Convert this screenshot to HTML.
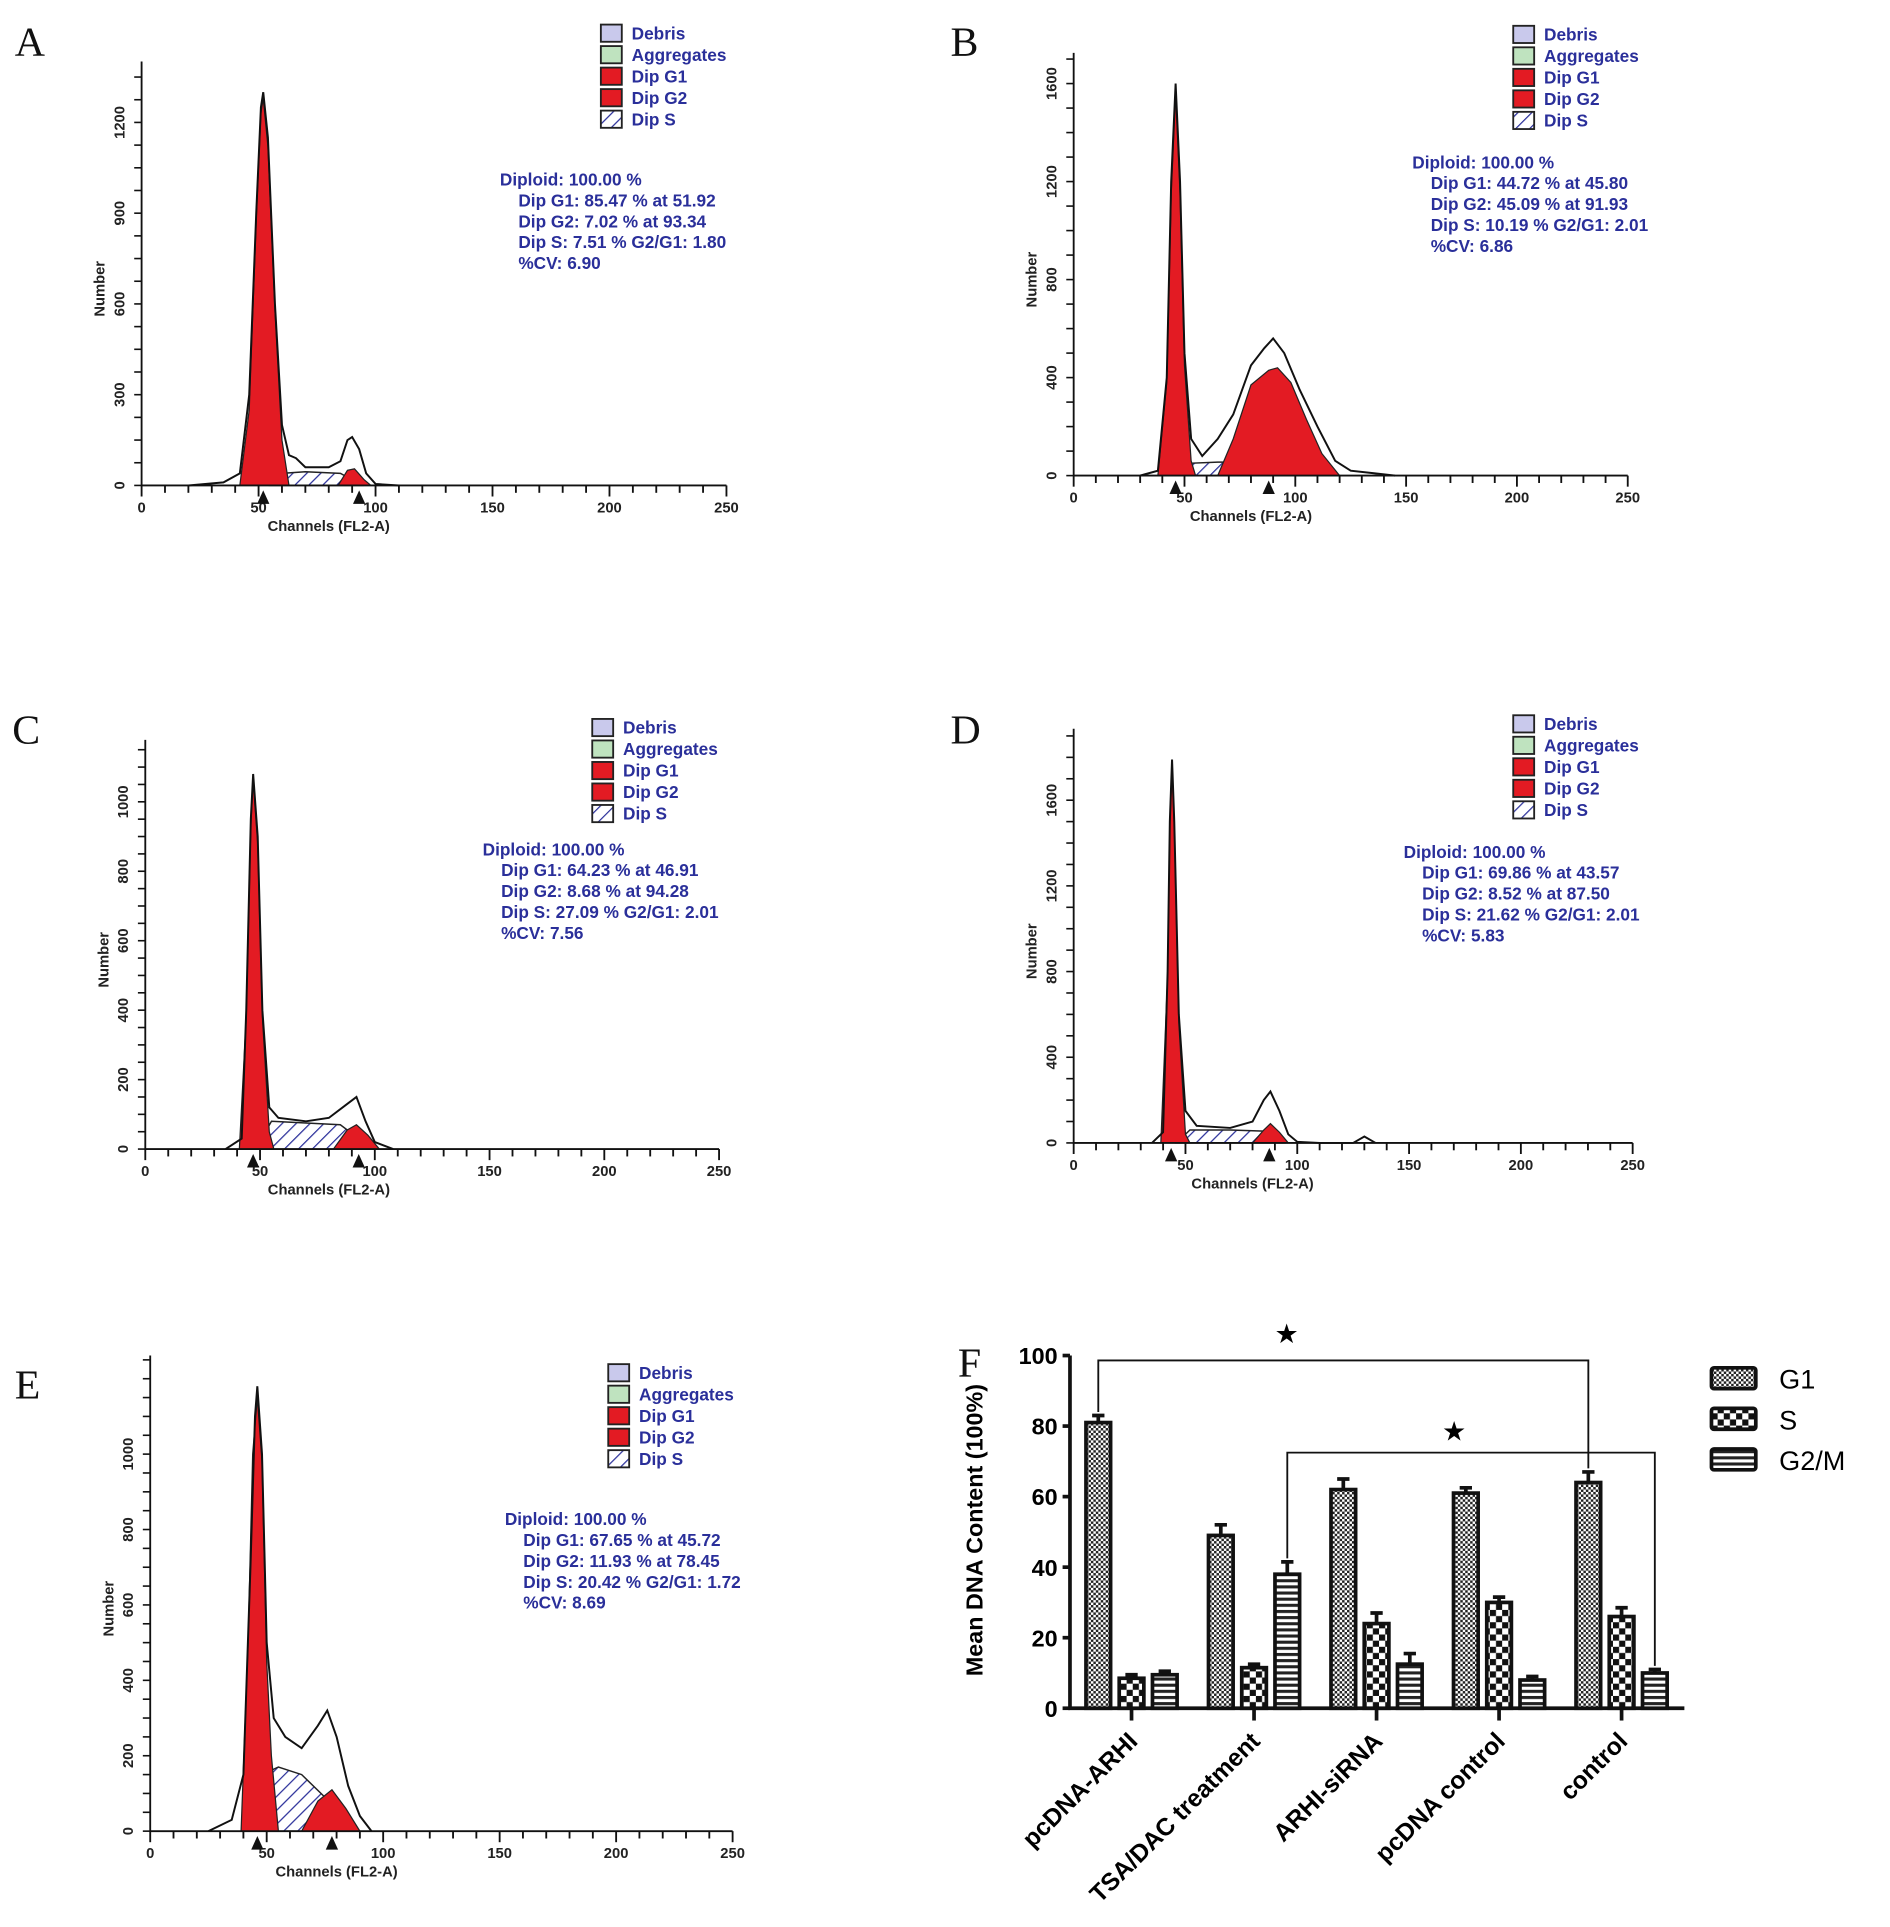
<!DOCTYPE html>
<html><head><meta charset="utf-8">
<style>
html,body{margin:0;padding:0;background:#fff;}
svg{display:block;}
.lt{font-family:"Liberation Sans",sans-serif;font-weight:bold;fill:#2a2f9a;font-size:14px;}
.st{font-family:"Liberation Sans",sans-serif;font-size:12px;font-weight:bold;fill:#222;}
.pl{font-family:"Liberation Serif",serif;font-size:34px;fill:#111;}
</style></head>
<body>
<svg id="fig" width="1890" height="1927" viewBox="0 0 1535 1568" preserveAspectRatio="none" xmlns="http://www.w3.org/2000/svg">
<defs>
<pattern id="hatch" width="8" height="8" patternUnits="userSpaceOnUse" patternTransform="rotate(45)">
<rect width="8" height="8" fill="#fff"/><line x1="0" y1="0" x2="0" y2="8" stroke="#2a2f9a" stroke-width="2"/></pattern>
<pattern id="pG1" width="4" height="4" patternUnits="userSpaceOnUse"><rect width="4" height="4" fill="#fff"/><rect width="2" height="2" fill="#222"/><rect x="2" y="2" width="2" height="2" fill="#222"/></pattern>
<pattern id="pS" width="10" height="10" patternUnits="userSpaceOnUse"><rect width="10" height="10" fill="#fff"/><rect width="5" height="5" fill="#111"/><rect x="5" y="5" width="5" height="5" fill="#111"/></pattern>
<pattern id="pG2" width="4" height="5" patternUnits="userSpaceOnUse"><rect width="4" height="5" fill="#fff"/><rect width="4" height="2.5" fill="#222"/></pattern>
</defs>
</svg>
<script>
// ---------- Histogram data (channel, count) ----------
const envA=[[20,0],[35,10],[42,40],[46,300],[49,900],[51,1250],[52,1300],[54,1150],[57,600],[60,200],[63,100],[66,90],[70,60],[80,60],[85,80],[88,150],[90,160],[93,120],[96,40],[100,5],[110,0]];
const g1A=[[42,0],[46,250],[49,880],[51,1230],[52,1280],[54,1120],[57,580],[60,150],[63,0]];
const g2A=[[84,0],[88,50],[91,55],[95,20],[98,0]];
const sA=[[55,0],[60,40],[70,45],[85,40],[92,10],[95,0]];
const envB=[[30,0],[38,20],[42,400],[44,1200],[46,1600],[48,1200],[50,500],[53,150],[58,80],[65,150],[72,250],[80,450],[86,520],[90,560],[95,500],[102,350],[110,200],[118,60],[125,20],[135,10],[145,0]];
const g1B=[[38,0],[42,380],[44,1150],[46,1560],[48,1150],[50,450],[53,60],[55,0]];
const g2B=[[65,0],[72,150],[80,370],[88,430],[92,440],[98,380],[105,230],[112,90],[120,0]];
const sB=[[45,0],[52,50],[65,55],[85,55],[100,20],[110,0]];
const envC=[[35,0],[42,30],[44,400],[46,950],[47,1080],[49,900],[51,400],[54,120],[58,90],[70,80],[80,90],[88,130],[92,150],[96,80],[100,20],[108,0]];
const g1C=[[41,0],[44,380],[46,930],[47,1060],[49,880],[51,380],[54,50],[56,0]];
const g2C=[[82,0],[88,55],[92,70],[97,40],[102,0]];
const sC=[[48,0],[55,80],[70,75],[85,70],[95,20],[100,0]];
const envD=[[35,0],[40,50],[42,800],[43,1500],[44,1790],[45,1500],[47,600],[50,150],[55,80],[70,70],[80,100],[85,200],[88,240],[92,150],[96,40],[100,5],[110,0],[125,0],[130,30],[135,0]];
const g1D=[[39,0],[42,780],[43,1480],[44,1760],[45,1480],[47,560],[50,40],[52,0]];
const g2D=[[80,0],[85,60],[88,90],[92,50],[96,0]];
const sD=[[46,0],[52,60],[70,60],[85,55],[92,10],[95,0]];
const envE=[[25,0],[35,30],[40,150],[43,700],[45,1100],[46,1180],[48,1000],[50,500],[53,300],[58,250],[65,220],[72,280],[76,320],[80,250],[85,120],[90,40],[95,0]];
const g1E=[[39,0],[42,500],[44,1000],[46,1150],[48,980],[50,450],[52,200],[55,0]];
const g2E=[[65,0],[72,80],[78,110],[84,60],[90,0]];
const sE=[[42,0],[48,150],[55,170],[65,150],[75,90],[85,20],[90,0]];
const xTicks=[0,50,100,150,200,250];
const yTicksA=[0,300,600,900,1200];
const yTicksB=[0,400,800,1200,1600];
const yTicksC=[0,200,400,600,800,1000];
const yTicksD=[0,400,800,1200,1600];
const yTicksE=[0,200,400,600,800,1000];
const statsA=["Diploid: 100.00 %","  Dip G1: 85.47 % at 51.92","  Dip G2: 7.02 % at 93.34","  Dip S:   7.51 %   G2/G1: 1.80","  %CV: 6.90"];
const statsB=["Diploid: 100.00 %","  Dip G1: 44.72 % at 45.80","  Dip G2: 45.09 % at 91.93","  Dip S: 10.19 %   G2/G1: 2.01","  %CV: 6.86"];
const statsC=["Diploid: 100.00 %","  Dip G1: 64.23 % at 46.91","  Dip G2: 8.68 % at 94.28","  Dip S: 27.09 %   G2/G1: 2.01","  %CV: 7.56"];
const statsD=["Diploid: 100.00 %","  Dip G1: 69.86 % at 43.57","  Dip G2: 8.52 % at 87.50","  Dip S: 21.62 %   G2/G1: 2.01","  %CV: 5.83"];
const statsE=["Diploid: 100.00 %","  Dip G1: 67.65 % at 45.72","  Dip G2: 11.93 % at 78.45","  Dip S: 20.42 %   G2/G1: 1.72","  %CV: 8.69"];
// ---------- Bar chart data ----------
const groups=["pcDNA-ARHI","TSA/DAC treatment","ARHI-siRNA","pcDNA control","control"];
const g1Vals=[81,49,62,61,64];
const sVals=[8.5,11.5,24,30,26];
const g2Vals=[9.5,38,12.5,8,10];
const g1Err=[2,3,3,1.5,3];
const sErr=[1,1,3,1.5,2.5];
const g2Err=[1,3.5,3,1,1];
const barTicks=[0,20,40,60,80,100];

const NS="http://www.w3.org/2000/svg";
const svg=document.getElementById('fig');
function mk(tag,attrs,parent){const e=document.createElementNS(NS,tag);for(const k in attrs)e.setAttribute(k,attrs[k]);(parent||svg).appendChild(e);return e;}
function txt(s,attrs,parent){const e=mk('text',attrs,parent);e.textContent=s;return e;}

function histo(p){
  const g=mk('g',{});
  
  
  const xs=c=>p.x0+(c/250)*(p.x1-p.x0);
  const ys=v=>p.y0-v*(p.y0-p.ytop)/p.ymax;
  const path=(arr)=>'M'+arr.map(d=>xs(d[0]).toFixed(1)+','+ys(d[1]).toFixed(1)).join(' L')+' Z';
  const l=txt(p.id,{x:p.lx,y:p.ly,class:'pl'},g);
  
  const s=mk('path',{d:path(p.s),fill:'url(#hatch)',stroke:'#222','stroke-width':1.2},g);
  
  const a=mk('path',{d:path(p.g1),fill:'#e31b23',stroke:'#222','stroke-width':1},g);
  
  const b=mk('path',{d:path(p.g2),fill:'#e31b23',stroke:'#222','stroke-width':1},g);
  
  const e=mk('path',{d:'M'+p.env.map(d=>xs(d[0]).toFixed(1)+','+ys(d[1]).toFixed(1)).join(' L'),fill:'none',stroke:'#111','stroke-width':1.6},g);
  
  const ax=mk('path',{d:`M${p.x0},${p.ytop-25} L${p.x0},${p.y0} L${p.x1},${p.y0}`,fill:'none',stroke:'#111','stroke-width':1.5},g);
  
  for(let c=0;c<=250;c+=10){mk('line',{x1:xs(c),x2:xs(c),y1:p.y0,y2:p.y0+(c%50?6:9),stroke:'#111','stroke-width':1.5},g);}
  xTicks.forEach(t=>{const tl=txt(t,{x:xs(t),y:p.y0+22,class:'st','text-anchor':'middle'},g);});
  const step=(p.y0-ys(p.yt[1]))/4;
  for(let y=p.y0;y>p.ytop-25;y-=step)mk('line',{x1:p.x0-6,x2:p.x0,y1:y,y2:y,stroke:'#111','stroke-width':1.3},g);
  p.yt.forEach(t=>{const yy=ys(t);const tl=txt(t,{x:p.x0-14,y:yy,class:'st','text-anchor':'middle',transform:`rotate(-90 ${p.x0-14} ${yy})`},g);});
  const xt=txt('Channels (FL2-A)',{x:xs(80),y:p.y0+37,class:'st','font-size':'15px','text-anchor':'middle'},g);
  
  const ym=(p.y0+p.ytop)/2;
  const yt=txt('Number',{x:p.x0-30,y:ym,class:'st','font-size':'15px','text-anchor':'middle',transform:`rotate(-90 ${p.x0-30} ${ym})`},g);
  
  [p.m1,p.m2].forEach(m=>{const tr=mk('path',{d:`M${xs(m)-5},${p.y0+15} L${xs(m)},${p.y0+4} L${xs(m)+5},${p.y0+15}Z`,fill:'#111'},g);});
  const leg=mk('g',{},g);
  const items=[['Debris','#c9c9ec'],['Aggregates','#bfe3bf'],['Dip G1','#e31b23'],['Dip G2','#e31b23'],['Dip S','url(#hatch)']];
  items.forEach((it,i)=>{const y=p.legy+i*17.5;
    const r=mk('rect',{x:p.legx,y:y,width:17,height:14,fill:it[1],stroke:'#222','stroke-width':1.5},leg);
    
    const t=txt(it[0],{x:p.legx+25,y:y+12,class:'lt','font-size':'13px'},leg);
    });
  p.stats.forEach((s,i)=>{const t=txt(s,{x:p.tx+(i?15:0),y:p.ty+i*17,class:'lt','font-size':'15px'},g);
    });
}
histo({id:'A',lx:12,ly:45,x0:115,x1:590,y0:395,ytop:75,ymax:1300,yt:yTicksA,env:envA,g1:g1A,g2:g2A,s:sA,m1:52,m2:93,legx:488,legy:20,tx:406,ty:151,stats:statsA});
histo({id:'B',lx:772,ly:45,x0:872,x1:1322,y0:387,ytop:68,ymax:1600,yt:yTicksB,env:envB,g1:g1B,g2:g2B,s:sB,m1:46,m2:88,legx:1229,legy:21,tx:1147,ty:137,stats:statsB});
histo({id:'C',lx:10,ly:605,x0:118,x1:584,y0:935,ytop:627,ymax:1090,yt:yTicksC,env:envC,g1:g1C,g2:g2C,s:sC,m1:47,m2:93,legx:481,legy:585,tx:392,ty:696,stats:statsC});
histo({id:'D',lx:772,ly:605,x0:872,x1:1326,y0:930,ytop:618,ymax:1790,yt:yTicksD,env:envD,g1:g1D,g2:g2D,s:sD,m1:43.6,m2:87.5,legx:1229,legy:582,tx:1140,ty:698,stats:statsD});
histo({id:'E',lx:12,ly:1138,x0:122,x1:595,y0:1490,ytop:1128,ymax:1180,yt:yTicksE,env:envE,g1:g1E,g2:g2E,s:sE,m1:46,m2:78,legx:494,legy:1110,tx:410,ty:1241,stats:statsE});

// ---------- Bar chart F ----------
(function(){
  const g=mk('g',{});
  
  
  const X0=869,X1=1368,Y0=1390,Y100=1103;
  const ys=v=>Y0-v*(Y0-Y100)/100;
  const gx=i=>919+i*99.5;
  const bw=20,off=27;
  const lab=txt('F',{x:778,y:1120,class:'pl'},g);
  const ax=mk('path',{d:`M${X0},${Y100} L${X0},${Y0} L${X1},${Y0}`,fill:'none',stroke:'#111','stroke-width':3},g);
  
  barTicks.forEach(t=>{mk('line',{x1:X0-6,x2:X0,y1:ys(t),y2:ys(t),stroke:'#111','stroke-width':3},g);
    const tl=txt(t,{x:X0-10,y:ys(t)+7,'text-anchor':'end','font-family':'Liberation Sans, sans-serif','font-weight':'bold','font-size':'19px'},g);
    });
  const yt=txt('Mean DNA Content (100%)',{x:798,y:1245,'text-anchor':'middle','font-family':'Liberation Sans, sans-serif','font-weight':'bold','font-size':'19px',transform:'rotate(-90 798 1245)'},g);
  
  const series=[[g1Vals,g1Err,'url(#pG1)',-off,'g1'],[sVals,sErr,'url(#pS)',0,'s'],[g2Vals,g2Err,'url(#pG2)',off,'g2m']];
  groups.forEach((name,i)=>{
    mk('line',{x1:gx(i),x2:gx(i),y1:Y0,y2:Y0+10,stroke:'#111','stroke-width':3},g);
    const cx=gx(i)+6,cy=Y0+28;
    const tl=txt(name,{x:cx,y:cy,'text-anchor':'end','font-family':'Liberation Sans, sans-serif','font-weight':'bold','font-size':'20px',transform:`rotate(-45 ${cx} ${cy})`},g);
    
    series.forEach(s=>{const v=s[0][i],e=s[1][i],x=gx(i)+s[3]-bw/2;
      const r=mk('rect',{x:x,y:ys(v),width:bw,height:Y0-ys(v),fill:s[2],stroke:'#111','stroke-width':3},g);
      
      const eb=mk('path',{d:`M${x+bw/2},${ys(v)} L${x+bw/2},${ys(v+e)} M${x+bw/2-5},${ys(v+e)} L${x+bw/2+5},${ys(v+e)}`,stroke:'#111','stroke-width':3,fill:'none'},g);
      });
  });
  const b1=mk('path',{d:`M${gx(0)-off},${ys(g1Vals[0]+g1Err[0]+1)} L${gx(0)-off},1107 L${gx(4)-off},1107 L${gx(4)-off},${ys(g1Vals[4]+g1Err[4]+1)}`,fill:'none',stroke:'#111','stroke-width':1.5},g);
  
  const b2=mk('path',{d:`M${gx(1)+off},${ys(g2Vals[1]+g2Err[1]+1)} L${gx(1)+off},1182 L${gx(4)+off},1182 L${gx(4)+off},${ys(g2Vals[4]+g2Err[4]+1)}`,fill:'none',stroke:'#111','stroke-width':1.5},g);
  
  [[1045,1093],[1181,1172]].forEach(p=>{const st=txt('★',{x:p[0],y:p[1],'text-anchor':'middle','font-family':'DejaVu Sans, sans-serif','font-size':'22px'},g);
    });
  const leg=mk('g',{},g);
  [['G1','url(#pG1)'],['S','url(#pS)'],['G2/M','url(#pG2)']].forEach((it,i)=>{const y=1113+i*33;
    const r=mk('rect',{x:1390,y:y,width:36,height:17,fill:it[1],stroke:'#111','stroke-width':3,rx:2},leg);
    
    const t=txt(it[0],{x:1445,y:y+17,'font-family':'Liberation Sans, sans-serif','font-size':'22px'},leg);
    });
})();
</script>
</body></html>
